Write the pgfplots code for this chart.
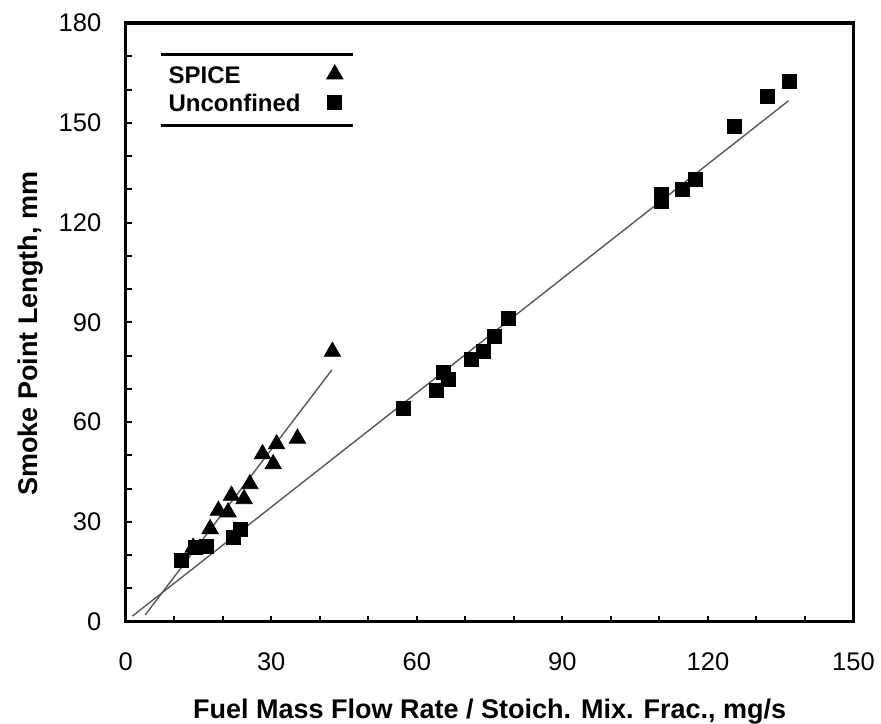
\documentclass[border=0pt]{standalone}
\usepackage{fontspec}
\setmainfont{Liberation Sans}
\usepackage{pgfplots}
\pgfplotsset{compat=1.18}

% Smoke point length vs. fuel flow rate scaled by stoichiometric mixture fraction
\pgfplotstableread{
x     y
13.9  22.3
17.4  27.9
19.1  33.4
21.1  32.9
21.8  37.9
24.4  36.9
25.6  41.4
28.2  50.4
30.4  47.4
31.1  53.4
35.4  55.1
42.6  81.2
}\spice

\pgfplotstableread{
x      y
11.5   18.5
14.3   22.4
16.7   22.5
22.2   25.4
23.6   27.7
57.2   64.0
64.1   69.5
65.5   74.9
66.5   72.9
71.3   78.8
73.7   81.2
75.9   85.7
78.9   91.2
110.5  128.4
110.5  126.4
114.8  130.0
117.5  133.0
125.4  149.0
132.3  157.9
136.8  162.4
}\unconfined

\begin{document}
\begin{tikzpicture}
\begin{axis}[
  scale only axis,
  width=363.9pt, height=299.35pt,
  xmin=0, xmax=150, ymin=0, ymax=180,
  xtick={0,30,...,150}, ytick={0,30,...,180},
  minor xtick={10,20,40,50,70,80,100,110,130,140},
  minor ytick={10,20,40,50,70,80,100,110,130,140,160,170},
  tick align=inside,
  xtick pos=bottom, ytick pos=left,
  major tick length=3pt, minor tick length=3pt,
  tick style={black, line width=1pt},
  axis line style={line width=1.6pt},
  /pgf/number format/assume math mode=true,
  ticklabel style={font=\fontsize{12.75}{15}\selectfont},
  xticklabel style={anchor=base, inner sep=0pt, yshift=-24.2pt},
  yticklabel style={anchor=east, inner sep=0pt, xshift=-12pt},
  xlabel={Fuel Mass Flow Rate / Stoich. Mix. Frac., mg/s},
  ylabel={Smoke Point Length, mm},
  label style={font=\bfseries\fontsize{13.5}{16}\selectfont},
  xlabel style={at={(rel axis cs:0.5,-0.1609)}, anchor=base},
  ylabel style={at={(rel axis cs:-0.1215,0.481)}, anchor=base},
  legend plot pos=right,
  legend cell align=left,
  legend image code/.code={\draw[#1] plot coordinates {(0pt,0pt)};},
  legend style={draw=none, fill=none, inner sep=0pt,
    font=\bfseries\fontsize{12}{14}\selectfont,
    nodes={inner sep=2pt, text height=9pt, text depth=0pt},
    row sep=1.2pt, column sep=11pt,
    at={(rel axis cs:0.053,0.8906)}, anchor=west},
]
% regression lines
\addplot[forget plot, black!65, line width=0.7pt] coordinates {(4.0,2.0) (42.5,75.7)};
\addplot[forget plot, black!65, line width=0.7pt] coordinates {(1.4,1.7) (136.6,156.6)};

\addplot[only marks, mark=triangle*, mark size=4.7pt, black, mark options={fill=black}]
  table[x=x, y=y] {\spice};
\addlegendentry{SPICE}
\addplot[only marks, mark=square*, mark size=3.5pt, black, mark options={fill=black}]
  table[x=x, y=y] {\unconfined};
\addlegendentry{Unconfined}

% rules above and below the legend
\draw[line width=1.4pt] (axis cs:7.3,170.6) -- (axis cs:46.9,170.6);
\draw[line width=1.4pt] (axis cs:7.3,149.3) -- (axis cs:46.9,149.3);

\coordinate (bbsw) at (rel axis cs:-0.1727,-0.1692);
\coordinate (bbne) at (rel axis cs:1.0378,1.0384);
\end{axis}
\pgfresetboundingbox
\path[use as bounding box] (bbsw) rectangle (bbne);
\end{tikzpicture}
\end{document}
